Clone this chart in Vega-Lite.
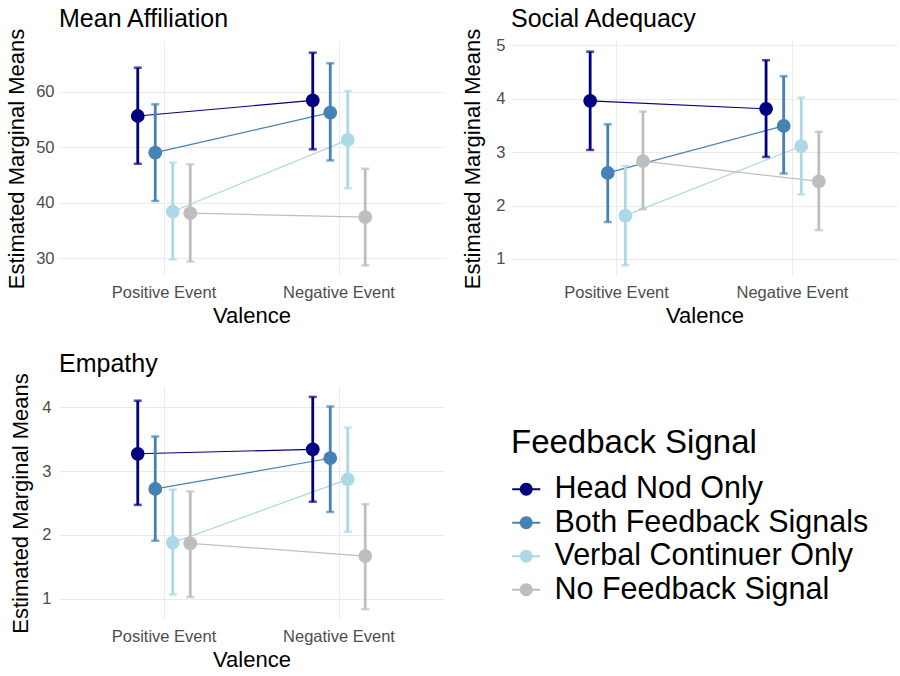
{
  "$schema": "https://vega.github.io/schema/vega-lite/v6.json",
  "background": "white",
  "padding": {"left": 5, "top": 7, "right": 0, "bottom": 0},
  "config": {
    "font": "Liberation Sans",
    "view": {"stroke": null},
    "axis": {"domain": false, "ticks": false, "labelColor": "#4D4D4D", "labelFontSize": 16.5, "titleFontSize": 22, "titleFontWeight": "normal", "titleColor": "black", "gridColor": "#EBEBEB", "gridWidth": 1},
    "title": {"fontSize": 25, "fontWeight": "normal", "anchor": "start", "color": "black", "baseline": "alphabetic", "offset": -4, "frame": "group"},
    "legend": {"titleFontSize": 33, "titleFontWeight": "normal", "titleColor": "black", "titleLimit": 0, "labelLimit": 0, "labelFontSize": 30.5, "labelColor": "black", "symbolSize": 784, "symbolType": "M -1 -0.08 L 1 -0.08 L 1 0.08 L -1 0.08 Z M 0.46 0 A 0.46 0.46 0 1 1 -0.46 0 A 0.46 0.46 0 1 1 0.46 0 Z", "symbolStrokeWidth": 0, "labelOffset": 13, "rowPadding": 2.5, "titlePadding": 14, "padding": 0}
  },
  "datasets": {
    "emm": [
      {"Measure": "Mean Affiliation", "Valence": "Positive Event", "Signal": "Head Nod Only", "Mean": 55.6, "Lower": 47.0, "Upper": 64.3},
      {"Measure": "Mean Affiliation", "Valence": "Positive Event", "Signal": "Both Feedback Signals", "Mean": 49.0, "Lower": 40.3, "Upper": 57.7},
      {"Measure": "Mean Affiliation", "Valence": "Positive Event", "Signal": "Verbal Continuer Only", "Mean": 38.4, "Lower": 29.8, "Upper": 47.2},
      {"Measure": "Mean Affiliation", "Valence": "Positive Event", "Signal": "No Feedback Signal", "Mean": 38.1, "Lower": 29.4, "Upper": 46.9},
      {"Measure": "Mean Affiliation", "Valence": "Negative Event", "Signal": "Head Nod Only", "Mean": 58.4, "Lower": 49.6, "Upper": 67.0},
      {"Measure": "Mean Affiliation", "Valence": "Negative Event", "Signal": "Both Feedback Signals", "Mean": 56.2, "Lower": 47.6, "Upper": 65.1},
      {"Measure": "Mean Affiliation", "Valence": "Negative Event", "Signal": "Verbal Continuer Only", "Mean": 51.3, "Lower": 42.6, "Upper": 60.1},
      {"Measure": "Mean Affiliation", "Valence": "Negative Event", "Signal": "No Feedback Signal", "Mean": 37.4, "Lower": 28.7, "Upper": 46.1},
      {"Measure": "Social Adequacy", "Valence": "Positive Event", "Signal": "Head Nod Only", "Mean": 3.96, "Lower": 3.04, "Upper": 4.88},
      {"Measure": "Social Adequacy", "Valence": "Positive Event", "Signal": "Both Feedback Signals", "Mean": 2.61, "Lower": 1.69, "Upper": 3.52},
      {"Measure": "Social Adequacy", "Valence": "Positive Event", "Signal": "Verbal Continuer Only", "Mean": 1.81, "Lower": 0.88, "Upper": 2.74},
      {"Measure": "Social Adequacy", "Valence": "Positive Event", "Signal": "No Feedback Signal", "Mean": 2.83, "Lower": 1.93, "Upper": 3.76},
      {"Measure": "Social Adequacy", "Valence": "Negative Event", "Signal": "Head Nod Only", "Mean": 3.81, "Lower": 2.91, "Upper": 4.72},
      {"Measure": "Social Adequacy", "Valence": "Negative Event", "Signal": "Both Feedback Signals", "Mean": 3.49, "Lower": 2.60, "Upper": 4.42},
      {"Measure": "Social Adequacy", "Valence": "Negative Event", "Signal": "Verbal Continuer Only", "Mean": 3.11, "Lower": 2.21, "Upper": 4.02},
      {"Measure": "Social Adequacy", "Valence": "Negative Event", "Signal": "No Feedback Signal", "Mean": 2.45, "Lower": 1.54, "Upper": 3.38},
      {"Measure": "Empathy", "Valence": "Positive Event", "Signal": "Head Nod Only", "Mean": 3.27, "Lower": 2.47, "Upper": 4.10},
      {"Measure": "Empathy", "Valence": "Positive Event", "Signal": "Both Feedback Signals", "Mean": 2.72, "Lower": 1.91, "Upper": 3.54},
      {"Measure": "Empathy", "Valence": "Positive Event", "Signal": "Verbal Continuer Only", "Mean": 1.88, "Lower": 1.07, "Upper": 2.71},
      {"Measure": "Empathy", "Valence": "Positive Event", "Signal": "No Feedback Signal", "Mean": 1.87, "Lower": 1.03, "Upper": 2.68},
      {"Measure": "Empathy", "Valence": "Negative Event", "Signal": "Head Nod Only", "Mean": 3.34, "Lower": 2.52, "Upper": 4.16},
      {"Measure": "Empathy", "Valence": "Negative Event", "Signal": "Both Feedback Signals", "Mean": 3.20, "Lower": 2.36, "Upper": 4.01},
      {"Measure": "Empathy", "Valence": "Negative Event", "Signal": "Verbal Continuer Only", "Mean": 2.87, "Lower": 2.05, "Upper": 3.68},
      {"Measure": "Empathy", "Valence": "Negative Event", "Signal": "No Feedback Signal", "Mean": 1.67, "Lower": 0.84, "Upper": 2.48}
    ]
  },
  "columns": 2,
  "spacing": {"row": 24, "column": 17},
  "resolve": {"scale": {"x": "independent", "y": "independent", "xOffset": "independent"}, "legend": {"color": "independent"}},
  "concat": [
    {
      "title": {"text": "Mean Affiliation"},
      "width": 385, "height": 235,
      "data": {"name": "emm"},
      "transform": [{"filter": "datum.Measure === 'Mean Affiliation'"}],
      "encoding": {
        "x": {"field": "Valence", "type": "nominal", "sort": ["Positive Event", "Negative Event"], "scale": {"type": "band", "paddingInner": 0.6, "paddingOuter": 0.4}, "axis": {"labelAngle": 0, "grid": true, "bandPosition": 0.5, "labelPadding": 8, "titlePadding": 5}},
        "xOffset": {"field": "Signal", "type": "nominal", "sort": ["Head Nod Only", "Both Feedback Signals", "Verbal Continuer Only", "No Feedback Signal"], "scale": {"paddingInner": 0, "paddingOuter": 0}},
        "color": {"field": "Signal", "type": "nominal", "scale": {"domain": ["Head Nod Only", "Both Feedback Signals", "Verbal Continuer Only", "No Feedback Signal"], "range": ["#000080", "#4682B4", "#ADD8E6", "#BEBEBE"]}, "legend": null}
      },
      "layer": [
        {"mark": {"type": "line", "strokeWidth": 1.2}, "encoding": {"y": {"field": "Mean", "type": "quantitative", "title": "Estimated Marginal Means", "scale": {"domain": [26.8, 69.1], "zero": false, "nice": false}, "axis": {"values": [30, 35, 40, 45, 50, 55, 60, 65], "labelExpr": "datum.value % 10 === 0 ? format(datum.value, 'd') : ''", "gridWidth": {"condition": {"test": "datum.value % 10 === 0", "value": 1}, "value": 0.6}, "labelPadding": 5, "titlePadding": 7}}}},
        {"mark": {"type": "rule", "strokeWidth": 2.8}, "encoding": {"y": {"field": "Lower", "type": "quantitative", "scale": {"domain": [26.8, 69.1], "zero": false, "nice": false}}, "y2": {"field": "Upper"}}},
        {"mark": {"type": "tick", "size": 8, "thickness": 2.5}, "encoding": {"y": {"field": "Lower", "type": "quantitative", "scale": {"domain": [26.8, 69.1], "zero": false, "nice": false}}}},
        {"mark": {"type": "tick", "size": 8, "thickness": 2.5}, "encoding": {"y": {"field": "Upper", "type": "quantitative", "scale": {"domain": [26.8, 69.1], "zero": false, "nice": false}}}},
        {"mark": {"type": "point", "filled": true, "size": 190, "opacity": 1, "strokeWidth": 0}, "encoding": {"y": {"field": "Mean", "type": "quantitative", "scale": {"domain": [26.8, 69.1], "zero": false, "nice": false}}}}
      ]
    },
    {
      "title": {"text": "Social Adequacy"},
      "width": 387, "height": 235,
      "data": {"name": "emm"},
      "transform": [{"filter": "datum.Measure === 'Social Adequacy'"}],
      "encoding": {
        "x": {"field": "Valence", "type": "nominal", "sort": ["Positive Event", "Negative Event"], "scale": {"type": "band", "paddingInner": 0.6, "paddingOuter": 0.4}, "axis": {"labelAngle": 0, "grid": true, "bandPosition": 0.5, "labelPadding": 8, "titlePadding": 5}},
        "xOffset": {"field": "Signal", "type": "nominal", "sort": ["Head Nod Only", "Both Feedback Signals", "Verbal Continuer Only", "No Feedback Signal"], "scale": {"paddingInner": 0, "paddingOuter": 0}},
        "color": {"field": "Signal", "type": "nominal", "scale": {"domain": ["Head Nod Only", "Both Feedback Signals", "Verbal Continuer Only", "No Feedback Signal"], "range": ["#000080", "#4682B4", "#ADD8E6", "#BEBEBE"]}, "legend": null}
      },
      "layer": [
        {"mark": {"type": "line", "strokeWidth": 1.2}, "encoding": {"y": {"field": "Mean", "type": "quantitative", "title": "Estimated Marginal Means", "scale": {"domain": [0.68, 5.08], "zero": false, "nice": false}, "axis": {"values": [1, 1.5, 2, 2.5, 3, 3.5, 4, 4.5, 5], "labelExpr": "datum.value % 1 === 0 ? format(datum.value, 'd') : ''", "gridWidth": {"condition": {"test": "datum.value % 1 === 0", "value": 1}, "value": 0.6}, "labelPadding": 6, "titlePadding": 11}}}},
        {"mark": {"type": "rule", "strokeWidth": 2.8}, "encoding": {"y": {"field": "Lower", "type": "quantitative", "scale": {"domain": [0.68, 5.08], "zero": false, "nice": false}}, "y2": {"field": "Upper"}}},
        {"mark": {"type": "tick", "size": 8, "thickness": 2.5}, "encoding": {"y": {"field": "Lower", "type": "quantitative", "scale": {"domain": [0.68, 5.08], "zero": false, "nice": false}}}},
        {"mark": {"type": "tick", "size": 8, "thickness": 2.5}, "encoding": {"y": {"field": "Upper", "type": "quantitative", "scale": {"domain": [0.68, 5.08], "zero": false, "nice": false}}}},
        {"mark": {"type": "point", "filled": true, "size": 190, "opacity": 1, "strokeWidth": 0}, "encoding": {"y": {"field": "Mean", "type": "quantitative", "scale": {"domain": [0.68, 5.08], "zero": false, "nice": false}}}}
      ]
    },
    {
      "title": {"text": "Empathy"},
      "width": 385, "height": 234,
      "data": {"name": "emm"},
      "transform": [{"filter": "datum.Measure === 'Empathy'"}],
      "encoding": {
        "x": {"field": "Valence", "type": "nominal", "sort": ["Positive Event", "Negative Event"], "scale": {"type": "band", "paddingInner": 0.6, "paddingOuter": 0.4}, "axis": {"labelAngle": 0, "grid": true, "bandPosition": 0.5, "labelPadding": 8, "titlePadding": 5}},
        "xOffset": {"field": "Signal", "type": "nominal", "sort": ["Head Nod Only", "Both Feedback Signals", "Verbal Continuer Only", "No Feedback Signal"], "scale": {"paddingInner": 0, "paddingOuter": 0}},
        "color": {"field": "Signal", "type": "nominal", "scale": {"domain": ["Head Nod Only", "Both Feedback Signals", "Verbal Continuer Only", "No Feedback Signal"], "range": ["#000080", "#4682B4", "#ADD8E6", "#BEBEBE"]}, "legend": null}
      },
      "layer": [
        {"mark": {"type": "line", "strokeWidth": 1.2}, "encoding": {"y": {"field": "Mean", "type": "quantitative", "title": "Estimated Marginal Means", "scale": {"domain": [0.67, 4.33], "zero": false, "nice": false}, "axis": {"values": [1, 1.5, 2, 2.5, 3, 3.5, 4], "labelExpr": "datum.value % 1 === 0 ? format(datum.value, 'd') : ''", "gridWidth": {"condition": {"test": "datum.value % 1 === 0", "value": 1}, "value": 0.6}, "labelPadding": 8, "titlePadding": 9}}}},
        {"mark": {"type": "rule", "strokeWidth": 2.8}, "encoding": {"y": {"field": "Lower", "type": "quantitative", "scale": {"domain": [0.67, 4.33], "zero": false, "nice": false}}, "y2": {"field": "Upper"}}},
        {"mark": {"type": "tick", "size": 8, "thickness": 2.5}, "encoding": {"y": {"field": "Lower", "type": "quantitative", "scale": {"domain": [0.67, 4.33], "zero": false, "nice": false}}}},
        {"mark": {"type": "tick", "size": 8, "thickness": 2.5}, "encoding": {"y": {"field": "Upper", "type": "quantitative", "scale": {"domain": [0.67, 4.33], "zero": false, "nice": false}}}},
        {"mark": {"type": "point", "filled": true, "size": 190, "opacity": 1, "strokeWidth": 0}, "encoding": {"y": {"field": "Mean", "type": "quantitative", "scale": {"domain": [0.67, 4.33], "zero": false, "nice": false}}}}
      ]
    },
    {
      "width": 380, "height": 234,
      "data": {"name": "emm"},
      "transform": [{"filter": "datum.Measure === 'Empathy'"}],
      "mark": {"type": "text", "text": ""},
      "encoding": {
        "color": {"field": "Signal", "type": "nominal", "title": "Feedback Signal", "scale": {"domain": ["Head Nod Only", "Both Feedback Signals", "Verbal Continuer Only", "No Feedback Signal"], "range": ["#000080", "#4682B4", "#ADD8E6", "#BEBEBE"]}, "legend": {"orient": "none", "legendX": 0, "legendY": 41}}
      }
    }
  ]
}
